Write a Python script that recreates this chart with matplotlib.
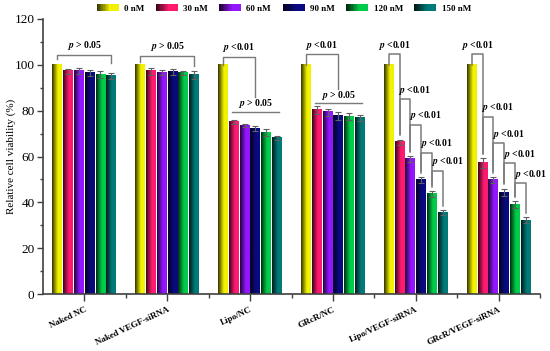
import numpy as np
import matplotlib
matplotlib.use("Agg")
import matplotlib.pyplot as plt
from matplotlib.patches import Rectangle, Patch
from matplotlib.legend_handler import HandlerBase
from matplotlib import rcParams
rcParams['font.family'] = 'Liberation Serif'
rcParams['mathtext.fontset'] = 'stix'

groups = ["Naked NC", "Naked VEGF-siRNA", "Lipo/NC", "GRcR/NC", "Lipo/VEGF-siRNA", "GRcR/VEGF-siRNA"]
doses = ["0 nM", "30 nM", "60 nM", "90 nM", "120 nM", "150 nM"]
colors = ['#f2f200', '#ff1a70', '#9416ff', '#0a0a80', '#00cc4a', '#007a78']

viability = np.array([
    [100, 97.1, 97.2, 96.4, 95.6, 95.0],
    [100, 97.1, 96.6, 96.8, 96.4, 95.6],
    [100, 75.0, 73.5, 72.1, 70.4, 68.0],
    [100, 80.3, 79.3, 77.6, 77.3, 76.7],
    [100, 66.2, 58.8, 49.8, 43.7, 35.6],
    [100, 57.2, 49.8, 44.4, 39.0, 32.2],
])
errors = np.array([
    [0, 1.0, 1.2, 1.4, 1.5, 1.3],
    [0, 1.5, 1.2, 1.2, 1.0, 1.8],
    [0, 1.0, 0.8, 1.0, 1.5, 1.0],
    [0, 1.8, 1.5, 1.8, 1.5, 1.2],
    [0, 1.2, 1.3, 1.2, 1.2, 1.0],
    [0, 2.0, 1.2, 1.5, 1.5, 1.3],
])

# significance annotations
simple_brackets = [(0, "p > 0.05", 104.3, 102.5, 100.5),
                   (1, "p > 0.05", 103.7, 101.0, 99.5)]
nested_top = [(2, 103.4, 79.5), (3, 104.5, 83.1)]   # group, p<0.01 top, p>0.05 line
cascade_tops = {4: [104.5, 84.9, 73.7, 61.7, 53.8],
                5: [104.5, 77.1, 65.7, 57.0, 48.3]}

width = 0.13


def shade(c, t):
    rgb = np.array(matplotlib.colors.to_rgb(c))
    f = 0.22 + 0.78 * min(t / 0.6, 1.0)
    return np.clip(rgb * f, 0, 1)


def gradient(c, n=40):
    return np.array([[shade(c, t) for t in np.linspace(0, 1, n)]])


class GradHandler(HandlerBase):
    def create_artists(self, legend, orig_handle, xdescent, ydescent,
                       width, height, fontsize, trans):
        c = orig_handle.get_facecolor()
        n = 14
        arts = []
        for k in range(n):
            arts.append(Rectangle((-xdescent + k * width / n, -ydescent), width / n * 1.05, height,
                                  facecolor=shade(c, k / (n - 1)), edgecolor='none',
                                  linewidth=0, transform=trans))
        return arts


fig, ax = plt.subplots(figsize=(5.5, 3.51), dpi=100)
fig.subplots_adjust(left=0.078, right=0.982, bottom=0.1615, top=0.9467)

centers = np.arange(1, len(groups) + 1)
offsets = (np.arange(len(doses)) - 2.5) * width

def bx(g, i):
    return centers[g] + offsets[i]

for g in range(len(groups)):
    for i in range(len(doses)):
        x = bx(g, i)
        h = viability[g, i]
        ax.imshow(gradient(colors[i]), extent=(x - width * 0.46, x + width * 0.46, 0, h),
                  aspect='auto', zorder=2, interpolation='bilinear')
        if errors[g, i] > 0:
            ax.errorbar(x, h, yerr=errors[g, i], fmt='none', ecolor='#606060',
                        elinewidth=0.8, capsize=2.2, capthick=0.8, zorder=3)

lc = '#7a7a7a'
ptxt = dict(fontsize=7, fontweight='bold', va='bottom', zorder=4)

for g, txt, top, yl, yr in simple_brackets:
    x0, x1 = bx(g, 0), bx(g, 5)
    ax.plot([x0, x0, x1, x1], [yl, top, top, yr], color=lc, lw=1.0, zorder=4)
    ax.text((x0 + x1) / 2, top + 1.2, "$\\mathbfit{p}$ > 0.05", ha='center', **ptxt)

for g, top, low in nested_top:
    x0 = bx(g, 0)
    xl, xr = bx(g, 1) - 0.02, bx(g, 5) + 0.02
    xm = (xl + xr) / 2
    ax.plot([x0, x0, xm, xm], [viability[g, 0], top, top, low + 6.5], color=lc, lw=1.0, zorder=4)
    ax.text(x0 - 0.01, top + 1.2, "$\\mathbfit{p}$ <0.01", ha='left', **ptxt)
    ax.plot([xl, xr], [low, low], color=lc, lw=1.0, zorder=4)
    ax.text(xm, low + 0.8, "$\\mathbfit{p}$ > 0.05", ha='center', **ptxt)

for g, tops in cascade_tops.items():
    for i, top in enumerate(tops):
        x0, x1 = bx(g, i), bx(g, i + 1)
        yl = viability[g, i] + errors[g, i] + (0 if i == 0 else 2.5)
        yr = viability[g, i + 1] + errors[g, i + 1] + 2.0
        ax.plot([x0, x0, x1, x1], [yl, top, top, yr], color=lc, lw=1.1, zorder=4)
        if i == 0:
            ax.text((x0 + x1) / 2, top + 1.2, "$\\mathbfit{p}$ <0.01", ha='center', **ptxt)
        else:
            ax.text(x0 - 0.015, top + 1.2, "$\\mathbfit{p}$ <0.01", ha='left', **ptxt)

ax.set_xlim(0.5, 6.5)
ax.set_ylim(0, 120)
ax.set_xticks(centers)
ax.set_xticks(np.arange(1.5, 6.6, 1.0), minor=True)
ax.set_xticklabels(groups, rotation=25, ha='right', rotation_mode='anchor',
                   fontsize=6.5, fontweight='bold')
ax.set_yticks(np.arange(0, 121, 20))
ax.set_yticks(np.arange(10, 120, 20), minor=True)
ax.tick_params(axis='y', labelsize=9.5, length=4, width=1, color='#404040', pad=2)
ax.tick_params(axis='y', which='minor', length=2.5, width=1, color='#404040')
ax.tick_params(axis='x', which='major', length=5, width=1, color='#404040', pad=3)
ax.tick_params(axis='x', which='minor', length=3, width=1, color='#404040')
for s in ['top', 'right']:
    ax.spines[s].set_visible(False)
for s in ['left', 'bottom']:
    ax.spines[s].set_color('#404040')
    ax.spines[s].set_linewidth(1.2)
ax.set_ylabel("Relative cell viability (%)", fontsize=8)
ax.yaxis.set_label_coords(-0.054, 0.5)

handles = [Patch(facecolor=c) for c in colors]
fig.legend(handles, doses, loc='center', bbox_to_anchor=(0.516, 0.977), ncol=6,
           frameon=False, handler_map={Patch: GradHandler()},
           handlelength=2.4, handleheight=0.9, columnspacing=1.3, handletextpad=0.6,
           prop=dict(family='Liberation Serif', weight='bold', size=6.5))

fig.savefig("out.png", dpi=100)
